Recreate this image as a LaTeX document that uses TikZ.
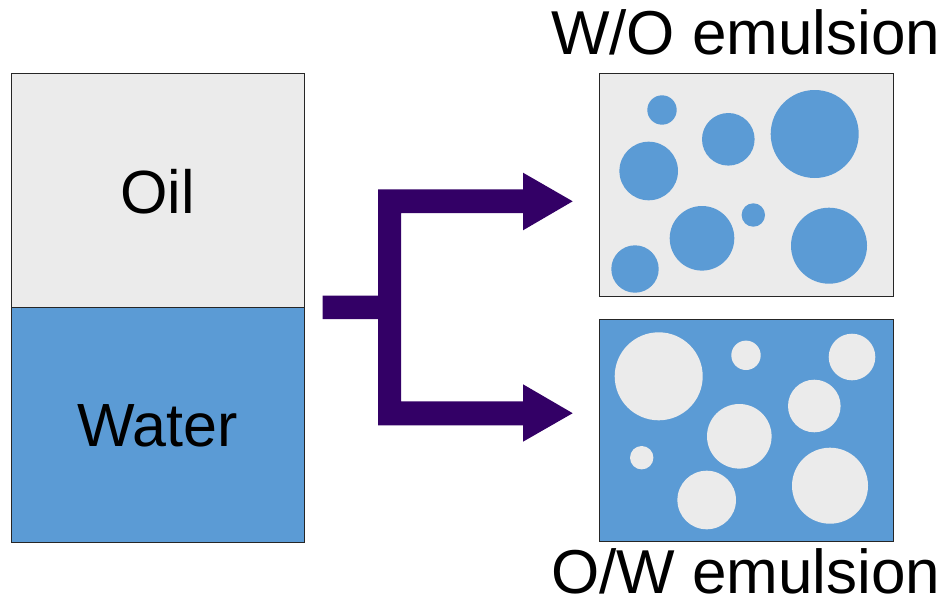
\documentclass[tikz,border=0pt]{standalone}
\usepackage{fontspec}
\setmainfont{Liberation Sans}
\definecolor{oilgray}{HTML}{EBEBEB}
\definecolor{waterblue}{HTML}{5B9BD5}
\definecolor{arrowpurple}{HTML}{330066}
\definecolor{edgegray}{HTML}{262626}
\begin{document}
\begin{tikzpicture}[x=1pt,y=-1pt,
  phase/.style={draw=edgegray,line width=1pt,inner sep=0pt,anchor=north west},
  biglabel/.style={font=\fontsize{61}{72}\selectfont,anchor=base,inner sep=0pt},
  titlelabel/.style={font=\fontsize{62}{72}\selectfont,anchor=base,inner sep=0pt}]
\useasboundingbox (0,0) rectangle (945,602);

% two layers before mixing
\node[phase,fill=oilgray,minimum width=292.7pt,minimum height=234pt] (oil) at (11.3,73.3) {};
\node[phase,fill=waterblue,minimum width=292.7pt,minimum height=234.4pt] (water) at (11.3,307.3) {};
\node[biglabel] (oiltxt) at (157.7,213.3) {Oil};
\node[biglabel] (watertxt) at (157.7,446.7) {Water};

% water-in-oil emulsion
\node[phase,fill=oilgray,minimum width=293.4pt,minimum height=222.4pt] (wo) at (599.3,73.3) {};
\foreach \cx/\cy/\r in {662/110/14.7, 728.3/139.3/26.3, 814.7/134/44, 648.7/171/29.3,
                        702/238.3/32.3, 753.3/215/11.7, 829/245.7/38, 635/269/23.7}
  \fill[waterblue] (\cx,\cy) circle[radius=\r];

% oil-in-water emulsion
\node[phase,fill=waterblue,minimum width=293.4pt,minimum height=221.4pt] (ow) at (599.3,319.3) {};
\foreach \cx/\cy/\r in {658.7/376.3/44, 746/355.3/14.7, 852/357/23.3, 814.3/406/26.3,
                        739.3/436.3/32.3, 641.7/457.7/11.7, 706.7/500/29.3, 830/485.7/38}
  \fill[oilgray] (\cx,\cy) circle[radius=\r];

\node[titlelabel] (wotxt) at (745.8,55) {W/O emulsion};
\node[titlelabel] (owtxt) at (745.8,593) {O/W emulsion};

% forked block arrow
\fill[arrowpurple]
  (322.7,295.7) -- (378,295.7) -- (378,189.3) -- (523,189.3) -- (523,172.7)
  -- (572.7,201.3) -- (523,230.3) -- (523,213) -- (401,213) -- (401,401.3)
  -- (523,401.3) -- (523,384.3) -- (572.7,413.2) -- (523,441.7) -- (523,425.3)
  -- (378,425.3) -- (378,319) -- (322.7,319) -- cycle;
\end{tikzpicture}
\end{document}
